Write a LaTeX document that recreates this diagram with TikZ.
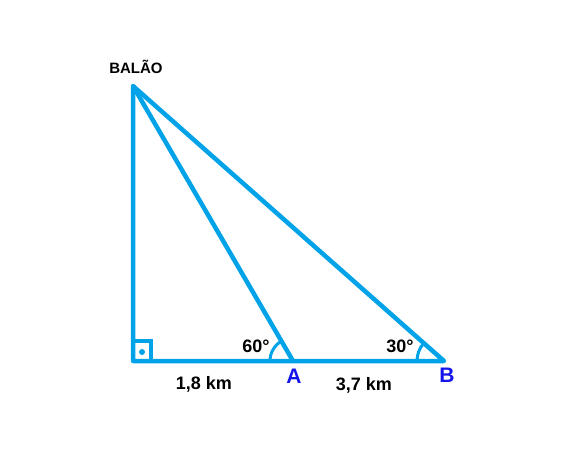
\documentclass[tikz,border=0pt]{standalone}
\usepackage{fontspec}
\setmainfont{Liberation Sans}
\usepackage{tikz}
\usetikzlibrary{calc}
\definecolor{paintblue}{RGB}{0,162,232}
\definecolor{letterblue}{RGB}{20,20,235}

\begin{document}
\begin{tikzpicture}[x=1pt, y=1pt,
    side/.style={draw=paintblue, line width=4.5pt},
    anglemark/.style={draw=paintblue, line width=3pt},
    lbl/.style={font=\bfseries\fontsize{18}{21}\selectfont, anchor=base, inner sep=0pt},
    vtx/.style={font=\bfseries\fontsize{21}{24}\selectfont, text=letterblue, anchor=base, inner sep=0pt}]
    \useasboundingbox (0,0) rectangle (571,456);
    % vertices
    \coordinate (balao) at (133,370);
    \coordinate (reto) at (133,95);
    \coordinate (A) at (293,95);
    \coordinate (B) at (444,95);
    % triangle
    \draw[side, line join=round] (balao) -- (reto) -- (B) -- cycle;
    \draw[side] (balao) -- (A);
    % right angle
    \draw[anglemark, line width=3.5pt] ($(reto)+(0,20)$) -| ($(reto)+(18,0)$);
    \fill[paintblue] ($(reto)+(9,9)$) circle (3);
    % angles
    \draw[anglemark] ($(A)+(180:23)$) arc (180:120:23);
    \draw[anglemark] ($(B)+(180:27)$) arc (180:139:27);
    % labels
    \node[lbl, font=\bfseries\fontsize{15}{18}\selectfont] (nBalao) at (136,382) {BALÃO};
    \node[lbl] (nSessenta) at (256,103) {60°};
    \node[lbl] (nTrinta) at (400,103) {30°};
    \node[lbl] (nDistA) at (204,67) {1,8 km};
    \node[lbl] (nDistB) at (364,66) {3,7 km};
    \node[vtx] (nA) at (294,73) {A};
    \node[vtx] (nB) at (447,74) {B};
\end{tikzpicture}
\end{document}
